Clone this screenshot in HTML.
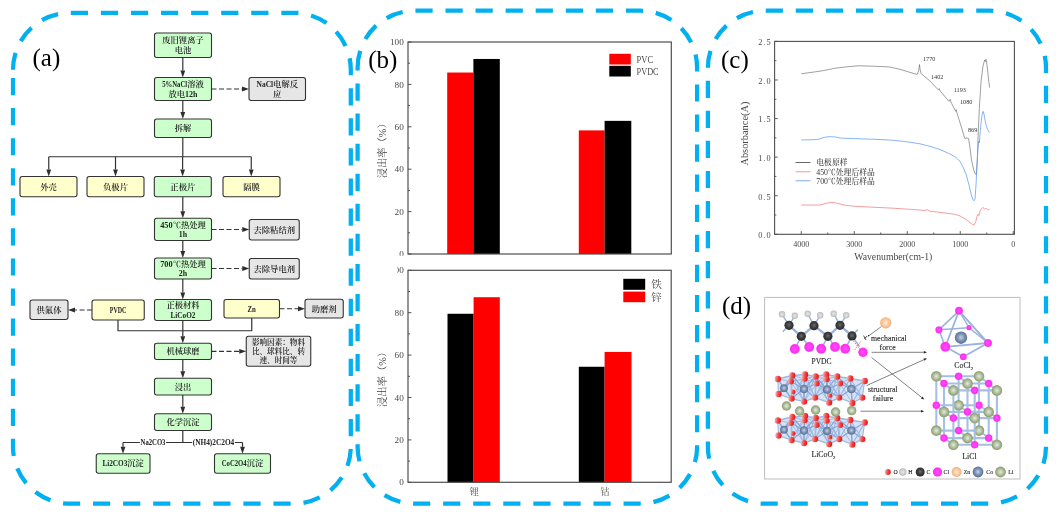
<!DOCTYPE html>
<html lang="zh"><head><meta charset="utf-8"><title>figure</title>
<style>
html,body{margin:0;padding:0;background:#fff;}
svg{display:block}
.fc{font-weight:600;fill:#222}
.cj{font-family:"Liberation Serif","Noto Serif CJK SC",serif}
.la{font-family:"Liberation Serif","Noto Serif CJK SC",serif}
.tn{font-family:"Liberation Serif","Noto Serif CJK SC",serif}
.ax{fill:#4a4a4a;font-weight:400}
</style></head><body>
<svg width="1056" height="519" viewBox="0 0 1056 519">
<defs>
<linearGradient id="gO" x1="0" y1="0.35" x2="1" y2="0.5"><stop offset="0" stop-color="#f4bcbc"/><stop offset="0.5" stop-color="#f04a4a"/><stop offset="1" stop-color="#ee0d0d"/></linearGradient>
<radialGradient id="gH" cx="0.5" cy="0.5" r="0.55"><stop offset="0" stop-color="#e9e9e9"/><stop offset="0.55" stop-color="#cfcfcf"/><stop offset="1" stop-color="#b3b3b3"/></radialGradient>
<radialGradient id="gC" cx="0.5" cy="0.45" r="0.6"><stop offset="0" stop-color="#6a6a6a"/><stop offset="0.5" stop-color="#3c3c3c"/><stop offset="1" stop-color="#242424"/></radialGradient>
<radialGradient id="gCl" cx="0.5" cy="0.5" r="0.55"><stop offset="0" stop-color="#ff52f6"/><stop offset="0.75" stop-color="#ff2df2"/><stop offset="1" stop-color="#fb66ee"/></radialGradient>
<radialGradient id="gZn" cx="0.5" cy="0.5" r="0.55"><stop offset="0" stop-color="#fdeadb"/><stop offset="0.55" stop-color="#f9c79d"/><stop offset="1" stop-color="#f3a970"/></radialGradient>
<radialGradient id="gCo" cx="0.5" cy="0.48" r="0.56"><stop offset="0" stop-color="#c3d0e3"/><stop offset="0.5" stop-color="#7e93b4"/><stop offset="1" stop-color="#4e6690"/></radialGradient>
<radialGradient id="gLi" cx="0.5" cy="0.5" r="0.55"><stop offset="0" stop-color="#e2e9ee"/><stop offset="0.4" stop-color="#bcc8ad"/><stop offset="0.8" stop-color="#93a476"/><stop offset="1" stop-color="#8a9b6d"/></radialGradient>
</defs>
<rect width="1056" height="519" fill="#fff"/>

<path d="M13.00,69.80 A57,57 0 0 1 70.00,12.80 L293.80,12.80 A57,57 0 0 1 350.80,69.80 L350.80,446.70 A57,57 0 0 1 293.80,503.70 L70.00,503.70 A57,57 0 0 1 13.00,446.70 Z" fill="none" stroke="#00b0f0" stroke-width="4.25" stroke-dasharray="17.2 12.87"/>
<path d="M357.60,67.70 A57,57 0 0 1 414.60,10.70 L640.10,10.70 A57,57 0 0 1 697.10,67.70 L697.10,446.70 A57,57 0 0 1 640.10,503.70 L414.60,503.70 A57,57 0 0 1 357.60,446.70 Z" fill="none" stroke="#00b0f0" stroke-width="4.25" stroke-dasharray="17.2 12.87"/>
<path d="M707.90,67.70 A57,57 0 0 1 764.90,10.70 L989.00,10.70 A57,57 0 0 1 1046.00,67.70 L1046.00,446.70 A57,57 0 0 1 989.00,503.70 L764.90,503.70 A57,57 0 0 1 707.90,446.70 Z" fill="none" stroke="#00b0f0" stroke-width="4.25" stroke-dasharray="17.2 12.87"/>
<text x="32.50" y="66.30" font-size="25" class="tn" fill="#000">(a)</text>
<text x="368.30" y="68.30" font-size="25" class="tn" fill="#000">(b)</text>
<text x="721.00" y="68.30" font-size="25" class="tn" fill="#000">(c)</text>
<text x="722.00" y="313.60" font-size="25" class="tn" fill="#000">(d)</text>
<line x1="182.80" y1="57.50" x2="182.80" y2="70.50" stroke="#333333" stroke-width="1.2"/>
<polygon points="182.80,77.50 180.40,70.50 185.20,70.50" fill="#2e2e2e"/>
<line x1="182.80" y1="100.50" x2="182.80" y2="112.00" stroke="#333333" stroke-width="1.2"/>
<polygon points="182.80,119.00 180.40,112.00 185.20,112.00" fill="#2e2e2e"/>
<polyline points="182.80,137.50 182.80,156.75" fill="none" stroke="#333333" stroke-width="1.2" />
<polyline points="48.75,156.75 251.25,156.75" fill="none" stroke="#333333" stroke-width="1.2" />
<line x1="48.75" y1="156.75" x2="48.75" y2="169.50" stroke="#333333" stroke-width="1.2"/>
<polygon points="48.75,176.50 46.35,169.50 51.15,169.50" fill="#2e2e2e"/>
<line x1="115.50" y1="156.75" x2="115.50" y2="169.50" stroke="#333333" stroke-width="1.2"/>
<polygon points="115.50,176.50 113.10,169.50 117.90,169.50" fill="#2e2e2e"/>
<line x1="182.60" y1="156.75" x2="182.60" y2="169.50" stroke="#333333" stroke-width="1.2"/>
<polygon points="182.60,176.50 180.20,169.50 185.00,169.50" fill="#2e2e2e"/>
<line x1="251.25" y1="156.75" x2="251.25" y2="169.50" stroke="#333333" stroke-width="1.2"/>
<polygon points="251.25,176.50 248.85,169.50 253.65,169.50" fill="#2e2e2e"/>
<line x1="182.80" y1="196.75" x2="182.80" y2="211.25" stroke="#333333" stroke-width="1.2"/>
<polygon points="182.80,218.25 180.40,211.25 185.20,211.25" fill="#2e2e2e"/>
<line x1="182.80" y1="240.50" x2="182.80" y2="251.00" stroke="#333333" stroke-width="1.2"/>
<polygon points="182.80,258.00 180.40,251.00 185.20,251.00" fill="#2e2e2e"/>
<line x1="182.80" y1="279.00" x2="182.80" y2="292.50" stroke="#333333" stroke-width="1.2"/>
<polygon points="182.80,299.50 180.40,292.50 185.20,292.50" fill="#2e2e2e"/>
<line x1="182.80" y1="320.50" x2="182.80" y2="336.25" stroke="#333333" stroke-width="1.2"/>
<polygon points="182.80,343.25 180.40,336.25 185.20,336.25" fill="#2e2e2e"/>
<polyline points="118.00,320.00 118.00,330.75 251.75,330.75 251.75,318.00" fill="none" stroke="#333333" stroke-width="1.2" />
<line x1="182.80" y1="359.50" x2="182.80" y2="371.25" stroke="#333333" stroke-width="1.2"/>
<polygon points="182.80,378.25 180.40,371.25 185.20,371.25" fill="#2e2e2e"/>
<line x1="182.80" y1="395.00" x2="182.80" y2="406.75" stroke="#333333" stroke-width="1.2"/>
<polygon points="182.80,413.75 180.40,406.75 185.20,406.75" fill="#2e2e2e"/>
<polyline points="182.80,430.50 182.80,442.50" fill="none" stroke="#333333" stroke-width="1.2" />
<polyline points="123.00,442.50 242.50,442.50" fill="none" stroke="#333333" stroke-width="1.2" />
<line x1="123.00" y1="442.50" x2="123.00" y2="446.75" stroke="#333333" stroke-width="1.2"/>
<polygon points="123.00,453.75 120.60,446.75 125.40,446.75" fill="#2e2e2e"/>
<line x1="242.50" y1="442.50" x2="242.50" y2="446.75" stroke="#333333" stroke-width="1.2"/>
<polygon points="242.50,453.75 240.10,446.75 244.90,446.75" fill="#2e2e2e"/>
<line x1="211.50" y1="89.00" x2="242.00" y2="89.00" stroke="#333333" stroke-width="1.2" stroke-dasharray="5 2.5"/>
<polygon points="249.00,89.00 242.00,91.40 242.00,86.60" fill="#2e2e2e"/>
<line x1="211.50" y1="229.50" x2="242.25" y2="229.50" stroke="#333333" stroke-width="1.2" stroke-dasharray="5 2.5"/>
<polygon points="249.25,229.50 242.25,231.90 242.25,227.10" fill="#2e2e2e"/>
<line x1="211.50" y1="268.50" x2="242.25" y2="268.50" stroke="#333333" stroke-width="1.2" stroke-dasharray="5 2.5"/>
<polygon points="249.25,268.50 242.25,270.90 242.25,266.10" fill="#2e2e2e"/>
<line x1="279.50" y1="308.75" x2="298.00" y2="308.75" stroke="#333333" stroke-width="1.2" stroke-dasharray="5 2.5"/>
<polygon points="305.00,308.75 298.00,311.15 298.00,306.35" fill="#2e2e2e"/>
<line x1="92.00" y1="310.00" x2="75.00" y2="310.00" stroke="#333333" stroke-width="1.2" stroke-dasharray="5 2.5"/>
<polygon points="68.00,310.00 75.00,307.60 75.00,312.40" fill="#2e2e2e"/>
<line x1="211.50" y1="351.30" x2="239.25" y2="351.30" stroke="#333333" stroke-width="1.2" stroke-dasharray="5 2.5"/>
<polygon points="246.25,351.30 239.25,353.70 239.25,348.90" fill="#2e2e2e"/>
<rect x="154.50" y="33.00" width="57.00" height="24.50" rx="2.2" fill="#ccffcc" stroke="#333333" stroke-width="1.1"/>
<text x="162.25" y="43.39" font-size="8.30" class="fc"><tspan class="cj">废旧锂离子</tspan></text>
<text x="174.70" y="53.09" font-size="8.30" class="fc"><tspan class="cj">电池</tspan></text>
<rect x="154.50" y="77.50" width="57.00" height="23.00" rx="2.2" fill="#ccffcc" stroke="#333333" stroke-width="1.1"/>
<text x="162.25" y="87.14" font-size="8.30" class="fc"><tspan class="la" textLength="24.90" lengthAdjust="spacingAndGlyphs">5%NaCl</tspan><tspan class="cj">溶液</tspan></text>
<text x="168.47" y="96.84" font-size="8.30" class="fc"><tspan class="cj">放电</tspan><tspan class="la" textLength="12.45" lengthAdjust="spacingAndGlyphs">12h</tspan></text>
<rect x="154.50" y="119.00" width="57.00" height="18.50" rx="2.2" fill="#ccffcc" stroke="#333333" stroke-width="1.1"/>
<text x="174.70" y="131.24" font-size="8.30" class="fc"><tspan class="cj">拆解</tspan></text>
<rect x="20.00" y="176.50" width="57.00" height="20.25" rx="2.2" fill="#ffffcc" stroke="#333333" stroke-width="1.1"/>
<text x="40.20" y="189.61" font-size="8.30" class="fc"><tspan class="cj">外壳</tspan></text>
<rect x="87.00" y="176.50" width="57.00" height="20.25" rx="2.2" fill="#ffffcc" stroke="#333333" stroke-width="1.1"/>
<text x="103.05" y="189.61" font-size="8.30" class="fc"><tspan class="cj">负极片</tspan></text>
<rect x="154.30" y="176.50" width="57.00" height="20.25" rx="2.2" fill="#ccffcc" stroke="#333333" stroke-width="1.1"/>
<text x="170.35" y="189.61" font-size="8.30" class="fc"><tspan class="cj">正极片</tspan></text>
<rect x="223.00" y="176.50" width="57.00" height="20.25" rx="2.2" fill="#ffffcc" stroke="#333333" stroke-width="1.1"/>
<text x="243.20" y="189.61" font-size="8.30" class="fc"><tspan class="cj">隔膜</tspan></text>
<rect x="154.50" y="218.25" width="57.00" height="22.25" rx="2.2" fill="#ccffcc" stroke="#333333" stroke-width="1.1"/>
<text x="160.18" y="227.51" font-size="8.30" class="fc"><tspan class="la" textLength="12.45" lengthAdjust="spacingAndGlyphs">450</tspan><tspan class="cj">℃热处理</tspan></text>
<text x="178.85" y="237.21" font-size="8.30" class="fc"><tspan class="la" textLength="8.30" lengthAdjust="spacingAndGlyphs">1h</tspan></text>
<rect x="154.50" y="258.00" width="57.00" height="21.00" rx="2.2" fill="#ccffcc" stroke="#333333" stroke-width="1.1"/>
<text x="160.18" y="266.64" font-size="8.30" class="fc"><tspan class="la" textLength="12.45" lengthAdjust="spacingAndGlyphs">700</tspan><tspan class="cj">℃热处理</tspan></text>
<text x="178.85" y="276.34" font-size="8.30" class="fc"><tspan class="la" textLength="8.30" lengthAdjust="spacingAndGlyphs">2h</tspan></text>
<rect x="154.50" y="299.50" width="57.00" height="21.00" rx="2.2" fill="#ccffcc" stroke="#333333" stroke-width="1.1"/>
<text x="166.40" y="308.14" font-size="8.30" class="fc"><tspan class="cj">正极材料</tspan></text>
<text x="170.55" y="317.84" font-size="8.30" class="fc"><tspan class="la" textLength="24.90" lengthAdjust="spacingAndGlyphs">LiCoO2</tspan></text>
<rect x="154.50" y="343.25" width="57.00" height="16.25" rx="2.2" fill="#ccffcc" stroke="#333333" stroke-width="1.1"/>
<text x="166.40" y="354.36" font-size="8.30" class="fc"><tspan class="cj">机械球磨</tspan></text>
<rect x="154.50" y="378.25" width="57.00" height="16.75" rx="2.2" fill="#ccffcc" stroke="#333333" stroke-width="1.1"/>
<text x="174.70" y="389.61" font-size="8.30" class="fc"><tspan class="cj">浸出</tspan></text>
<rect x="154.50" y="413.75" width="57.00" height="16.75" rx="2.2" fill="#ccffcc" stroke="#333333" stroke-width="1.1"/>
<text x="166.40" y="425.11" font-size="8.30" class="fc"><tspan class="cj">化学沉淀</tspan></text>
<rect x="96.25" y="453.75" width="53.75" height="19.50" rx="2.2" fill="#ccffcc" stroke="#333333" stroke-width="1.1"/>
<text x="102.38" y="466.49" font-size="8.30" class="fc"><tspan class="la" textLength="24.90" lengthAdjust="spacingAndGlyphs">Li2CO3</tspan><tspan class="cj">沉淀</tspan></text>
<rect x="214.50" y="453.75" width="56.00" height="19.50" rx="2.2" fill="#ccffcc" stroke="#333333" stroke-width="1.1"/>
<text x="221.75" y="466.49" font-size="8.30" class="fc"><tspan class="la" textLength="24.90" lengthAdjust="spacingAndGlyphs">CoC2O4</tspan><tspan class="cj">沉淀</tspan></text>
<rect x="92.00" y="300.00" width="52.25" height="20.00" rx="2.2" fill="#ffffcc" stroke="#333333" stroke-width="1.1"/>
<text x="109.83" y="312.99" font-size="8.30" class="fc"><tspan class="la" textLength="16.60" lengthAdjust="spacingAndGlyphs">PVDC</tspan></text>
<rect x="224.00" y="299.50" width="55.50" height="18.50" rx="2.2" fill="#ffffcc" stroke="#333333" stroke-width="1.1"/>
<text x="247.60" y="311.74" font-size="8.30" class="fc"><tspan class="la" textLength="8.30" lengthAdjust="spacingAndGlyphs">Zn</tspan></text>
<rect x="249.00" y="77.50" width="56.50" height="23.00" rx="2.2" fill="#e6e6e6" stroke="#333333" stroke-width="1.1"/>
<text x="256.50" y="87.14" font-size="8.30" class="fc"><tspan class="la" textLength="16.60" lengthAdjust="spacingAndGlyphs">NaCl</tspan><tspan class="cj">电解反</tspan></text>
<text x="273.10" y="96.84" font-size="8.30" class="fc"><tspan class="cj">应</tspan></text>
<rect x="249.25" y="219.50" width="50.00" height="20.50" rx="2.2" fill="#e6e6e6" stroke="#333333" stroke-width="1.1"/>
<text x="253.50" y="232.74" font-size="8.30" class="fc"><tspan class="cj">去除粘结剂</tspan></text>
<rect x="249.25" y="258.50" width="50.00" height="20.50" rx="2.2" fill="#e6e6e6" stroke="#333333" stroke-width="1.1"/>
<text x="253.50" y="271.74" font-size="8.30" class="fc"><tspan class="cj">去除导电剂</tspan></text>
<rect x="305.00" y="299.25" width="38.25" height="18.75" rx="2.2" fill="#e6e6e6" stroke="#333333" stroke-width="1.1"/>
<text x="311.68" y="311.61" font-size="8.30" class="fc"><tspan class="cj">助磨剂</tspan></text>
<rect x="30.00" y="300.00" width="38.00" height="19.50" rx="2.2" fill="#e6e6e6" stroke="#333333" stroke-width="1.1"/>
<text x="36.55" y="312.74" font-size="8.30" class="fc"><tspan class="cj">供氟体</tspan></text>
<rect x="246.25" y="336.25" width="64.50" height="30.00" rx="2.2" fill="#e6e6e6" stroke="#333333" stroke-width="1.1"/>
<text x="251.90" y="345.09" font-size="7.60" class="fc"><tspan class="cj">影响因素：物料</tspan></text>
<text x="251.90" y="353.99" font-size="7.60" class="fc"><tspan class="cj">比、球料比、转</tspan></text>
<text x="259.50" y="362.89" font-size="7.60" class="fc"><tspan class="cj">速、时间等</tspan></text>
<rect x="139.95" y="438.50" width="26.10" height="8" fill="#fff"/>
<text x="140.55" y="445.49" font-size="8.3" class="fc"><tspan class="la" textLength="24.90" lengthAdjust="spacingAndGlyphs">Na2CO3</tspan></text>
<rect x="192.15" y="438.50" width="42.70" height="8" fill="#fff"/>
<text x="192.75" y="445.49" font-size="8.3" class="fc"><tspan class="la" textLength="41.50" lengthAdjust="spacingAndGlyphs">(NH4)2C2O4</tspan></text>
<clipPath id="cb1"><rect x="360" y="30" width="340" height="225.8"/></clipPath>
<g clip-path="url(#cb1)">
<rect x="447.20" y="72.53" width="26.20" height="181.47" fill="#ff0000"/>
<rect x="473.40" y="58.96" width="26.40" height="195.04" fill="#000000"/>
<rect x="578.80" y="130.40" width="25.80" height="123.60" fill="#ff0000"/>
<rect x="604.60" y="120.86" width="26.70" height="133.14" fill="#000000"/>
<rect x="408.00" y="42.00" width="263.30" height="212.00" fill="none" stroke="#4f4f4f" stroke-width="1.2"/>
<line x1="408.00" y1="254.00" x2="411.40" y2="254.00" stroke="#4f4f4f" stroke-width="1"/>
<text x="403.80" y="257.10" font-size="9.2" text-anchor="end" class="tn ax" >0</text>
<line x1="408.00" y1="232.80" x2="410.00" y2="232.80" stroke="#4f4f4f" stroke-width="1"/>
<line x1="408.00" y1="211.60" x2="411.40" y2="211.60" stroke="#4f4f4f" stroke-width="1"/>
<text x="403.80" y="214.70" font-size="9.2" text-anchor="end" class="tn ax" >20</text>
<line x1="408.00" y1="190.40" x2="410.00" y2="190.40" stroke="#4f4f4f" stroke-width="1"/>
<line x1="408.00" y1="169.20" x2="411.40" y2="169.20" stroke="#4f4f4f" stroke-width="1"/>
<text x="403.80" y="172.30" font-size="9.2" text-anchor="end" class="tn ax" >40</text>
<line x1="408.00" y1="148.00" x2="410.00" y2="148.00" stroke="#4f4f4f" stroke-width="1"/>
<line x1="408.00" y1="126.80" x2="411.40" y2="126.80" stroke="#4f4f4f" stroke-width="1"/>
<text x="403.80" y="129.90" font-size="9.2" text-anchor="end" class="tn ax" >60</text>
<line x1="408.00" y1="105.60" x2="410.00" y2="105.60" stroke="#4f4f4f" stroke-width="1"/>
<line x1="408.00" y1="84.40" x2="411.40" y2="84.40" stroke="#4f4f4f" stroke-width="1"/>
<text x="403.80" y="87.50" font-size="9.2" text-anchor="end" class="tn ax" >80</text>
<line x1="408.00" y1="63.20" x2="410.00" y2="63.20" stroke="#4f4f4f" stroke-width="1"/>
<line x1="408.00" y1="42.00" x2="411.40" y2="42.00" stroke="#4f4f4f" stroke-width="1"/>
<text x="403.80" y="45.10" font-size="9.2" text-anchor="end" class="tn ax" >100</text>
</g>
<clipPath id="cb2"><rect x="360" y="262" width="340" height="238"/></clipPath>
<g clip-path="url(#cb2)">
<rect x="447.50" y="313.76" width="26.10" height="168.54" fill="#000000"/>
<rect x="473.60" y="297.22" width="26.20" height="185.08" fill="#ff0000"/>
<rect x="578.80" y="366.76" width="25.80" height="115.54" fill="#000000"/>
<rect x="604.60" y="351.92" width="26.90" height="130.38" fill="#ff0000"/>
<rect x="408.00" y="270.30" width="263.20" height="212.00" fill="none" stroke="#4f4f4f" stroke-width="1.2"/>
<line x1="408.00" y1="482.30" x2="411.40" y2="482.30" stroke="#4f4f4f" stroke-width="1"/>
<text x="403.80" y="485.40" font-size="9.2" text-anchor="end" class="tn ax" >0</text>
<line x1="408.00" y1="461.10" x2="410.00" y2="461.10" stroke="#4f4f4f" stroke-width="1"/>
<line x1="408.00" y1="439.90" x2="411.40" y2="439.90" stroke="#4f4f4f" stroke-width="1"/>
<text x="403.80" y="443.00" font-size="9.2" text-anchor="end" class="tn ax" >20</text>
<line x1="408.00" y1="418.70" x2="410.00" y2="418.70" stroke="#4f4f4f" stroke-width="1"/>
<line x1="408.00" y1="397.50" x2="411.40" y2="397.50" stroke="#4f4f4f" stroke-width="1"/>
<text x="403.80" y="400.60" font-size="9.2" text-anchor="end" class="tn ax" >40</text>
<line x1="408.00" y1="376.30" x2="410.00" y2="376.30" stroke="#4f4f4f" stroke-width="1"/>
<line x1="408.00" y1="355.10" x2="411.40" y2="355.10" stroke="#4f4f4f" stroke-width="1"/>
<text x="403.80" y="358.20" font-size="9.2" text-anchor="end" class="tn ax" >60</text>
<line x1="408.00" y1="333.90" x2="410.00" y2="333.90" stroke="#4f4f4f" stroke-width="1"/>
<line x1="408.00" y1="312.70" x2="411.40" y2="312.70" stroke="#4f4f4f" stroke-width="1"/>
<text x="403.80" y="315.80" font-size="9.2" text-anchor="end" class="tn ax" >80</text>
<line x1="408.00" y1="291.50" x2="410.00" y2="291.50" stroke="#4f4f4f" stroke-width="1"/>
<line x1="408.00" y1="270.30" x2="411.40" y2="270.30" stroke="#4f4f4f" stroke-width="1"/>
<text x="403.80" y="273.40" font-size="9.2" text-anchor="end" class="tn ax" >100</text>
</g>
<rect x="384" y="262" width="13.2" height="14" fill="#fff"/>
<rect x="609.3" y="53.8" width="21.5" height="10.7" fill="#f00"/><rect x="609.3" y="65.8" width="21.5" height="10.7" fill="#000"/>
<text x="636.6" y="63.2" font-size="11" class="tn ax" textLength="16.5" lengthAdjust="spacingAndGlyphs">PVC</text>
<text x="636.6" y="75.2" font-size="11" class="tn ax" textLength="22" lengthAdjust="spacingAndGlyphs">PVDC</text>
<rect x="623.3" y="278.8" width="21.9" height="11" fill="#000"/><rect x="623.3" y="291.6" width="21.9" height="10.6" fill="#f00"/>
<text x="651.20" y="288.20" font-size="10.5" text-anchor="start" class="tn ax" >铁</text>
<text x="651.20" y="300.60" font-size="10.5" text-anchor="start" class="tn ax" >锌</text>
<text x="474.20" y="495.40" font-size="9" text-anchor="middle" class="tn ax" >锂</text>
<text x="604.90" y="495.40" font-size="9" text-anchor="middle" class="tn ax" >钴</text>
<text transform="translate(386.00,148.30) rotate(-90)" font-size="10.3" text-anchor="middle" class="tn" fill="#3c3c3c" >浸出率（%）</text>
<text transform="translate(386.00,376.90) rotate(-90)" font-size="10.3" text-anchor="middle" class="tn" fill="#3c3c3c" >浸出率（%）</text>
<rect x="774.60" y="41.40" width="239.80" height="192.90" fill="none" stroke="#4f4f4f" stroke-width="1.1"/>
<line x1="774.60" y1="234.30" x2="777.80" y2="234.30" stroke="#4f4f4f" stroke-width="0.9"/>
<text x="758.2" y="238.10" font-size="8.3" class="tn ax" textLength="12.4" lengthAdjust="spacing">0.0</text>
<line x1="774.60" y1="215.01" x2="776.40" y2="215.01" stroke="#4f4f4f" stroke-width="0.9"/>
<line x1="774.60" y1="195.72" x2="777.80" y2="195.72" stroke="#4f4f4f" stroke-width="0.9"/>
<text x="758.2" y="199.52" font-size="8.3" class="tn ax" textLength="12.4" lengthAdjust="spacing">0.5</text>
<line x1="774.60" y1="176.43" x2="776.40" y2="176.43" stroke="#4f4f4f" stroke-width="0.9"/>
<line x1="774.60" y1="157.14" x2="777.80" y2="157.14" stroke="#4f4f4f" stroke-width="0.9"/>
<text x="758.2" y="160.94" font-size="8.3" class="tn ax" textLength="12.4" lengthAdjust="spacing">1.0</text>
<line x1="774.60" y1="137.85" x2="776.40" y2="137.85" stroke="#4f4f4f" stroke-width="0.9"/>
<line x1="774.60" y1="118.56" x2="777.80" y2="118.56" stroke="#4f4f4f" stroke-width="0.9"/>
<text x="758.2" y="122.36" font-size="8.3" class="tn ax" textLength="12.4" lengthAdjust="spacing">1.5</text>
<line x1="774.60" y1="99.27" x2="776.40" y2="99.27" stroke="#4f4f4f" stroke-width="0.9"/>
<line x1="774.60" y1="79.98" x2="777.80" y2="79.98" stroke="#4f4f4f" stroke-width="0.9"/>
<text x="758.2" y="83.78" font-size="8.3" class="tn ax" textLength="12.4" lengthAdjust="spacing">2.0</text>
<line x1="774.60" y1="60.69" x2="776.40" y2="60.69" stroke="#4f4f4f" stroke-width="0.9"/>
<line x1="774.60" y1="41.40" x2="777.80" y2="41.40" stroke="#4f4f4f" stroke-width="0.9"/>
<text x="758.2" y="45.20" font-size="8.3" class="tn ax" textLength="12.4" lengthAdjust="spacing">2.5</text>
<line x1="1013.25" y1="234.30" x2="1013.25" y2="231.10" stroke="#4f4f4f" stroke-width="0.9"/>
<text x="1013.25" y="246.80" font-size="8" text-anchor="middle" class="tn ax" >0</text>
<line x1="986.75" y1="234.30" x2="986.75" y2="232.50" stroke="#4f4f4f" stroke-width="0.9"/>
<line x1="960.25" y1="234.30" x2="960.25" y2="231.10" stroke="#4f4f4f" stroke-width="0.9"/>
<text x="960.25" y="246.80" font-size="8" text-anchor="middle" class="tn ax" >1000</text>
<line x1="933.75" y1="234.30" x2="933.75" y2="232.50" stroke="#4f4f4f" stroke-width="0.9"/>
<line x1="907.25" y1="234.30" x2="907.25" y2="231.10" stroke="#4f4f4f" stroke-width="0.9"/>
<text x="907.25" y="246.80" font-size="8" text-anchor="middle" class="tn ax" >2000</text>
<line x1="880.75" y1="234.30" x2="880.75" y2="232.50" stroke="#4f4f4f" stroke-width="0.9"/>
<line x1="854.25" y1="234.30" x2="854.25" y2="231.10" stroke="#4f4f4f" stroke-width="0.9"/>
<text x="854.25" y="246.80" font-size="8" text-anchor="middle" class="tn ax" >3000</text>
<line x1="827.75" y1="234.30" x2="827.75" y2="232.50" stroke="#4f4f4f" stroke-width="0.9"/>
<line x1="801.25" y1="234.30" x2="801.25" y2="231.10" stroke="#4f4f4f" stroke-width="0.9"/>
<text x="801.25" y="246.80" font-size="8" text-anchor="middle" class="tn ax" >4000</text>
<text x="854.3" y="260.1" font-size="10" class="tn ax" textLength="78" lengthAdjust="spacingAndGlyphs">Wavenumber(cm-1)</text>
<text transform="translate(748.4,165.6) rotate(-90)" font-size="10" class="tn ax" textLength="64" lengthAdjust="spacingAndGlyphs">Absorbance(A)</text>
<polyline points="801.25,73.75 812.00,72.30 822.50,70.75 835.00,68.25 847.00,66.80 858.75,65.75 875.00,66.25 890.00,67.00 902.50,70.00 910.00,72.40 917.20,74.40 918.60,71.00 919.50,64.60 920.20,70.00 921.00,73.50 930.00,81.00 938.20,89.80 939.20,88.60 940.20,91.00 948.90,101.30 950.20,99.30 951.20,102.50 955.60,111.30 956.20,109.60 957.00,113.00 961.00,126.00 964.80,138.60 967.00,137.80 968.60,138.60 970.00,148.00 971.50,160.00 973.50,169.00 975.20,174.00 976.40,174.50 977.30,160.00 978.30,130.00 979.50,105.00 981.20,80.00 983.00,66.00 984.60,60.00 985.30,61.50 985.90,59.30 986.60,62.00 987.60,70.00 988.60,80.00 989.60,87.60" fill="none" stroke="#505050" stroke-width="0.55" stroke-linejoin="round"/>
<polyline points="801.25,140.00 810.00,139.80 817.50,139.50 822.00,138.00 826.00,137.00 830.00,136.70 835.00,136.90 840.00,138.00 850.00,138.50 860.00,138.80 875.00,139.30 890.00,140.00 905.00,141.50 920.00,143.80 930.00,146.30 940.00,149.50 950.00,154.00 956.00,157.50 960.00,161.30 963.50,168.00 966.30,175.00 969.00,185.00 971.30,195.00 973.00,199.80 974.00,200.80 975.00,199.00 976.00,185.00 977.00,165.00 978.00,148.00 978.80,141.00 979.30,143.00 980.00,134.00 981.00,123.00 982.00,115.00 983.00,111.30 984.00,114.00 985.00,120.00 986.20,125.50 987.60,129.50 989.40,132.50" fill="none" stroke="#5f9cf0" stroke-width="0.75" stroke-linejoin="round"/>
<polyline points="801.25,205.00 812.00,205.10 820.00,205.00 825.00,203.60 830.00,202.50 835.00,202.70 840.00,204.00 845.00,205.20 855.00,206.30 875.00,207.30 890.00,208.00 905.00,209.00 920.00,210.00 925.00,210.60 927.30,209.60 929.50,211.20 945.00,213.00 955.00,214.30 960.00,216.00 965.00,218.80 970.00,222.50 972.50,224.60 974.00,225.00 975.50,222.50 977.00,216.50 978.00,214.30 978.80,215.60 980.00,211.30 981.50,208.60 983.00,207.50 984.60,209.00 986.00,208.40 987.60,209.80 989.40,209.50" fill="none" stroke="#f07f7f" stroke-width="0.75" stroke-linejoin="round"/>
<text x="923.00" y="60.80" font-size="6.2" text-anchor="start" class="tn" fill="#333">1770</text>
<text x="931.00" y="79.00" font-size="6.2" text-anchor="start" class="tn" fill="#333">1402</text>
<text x="953.70" y="92.00" font-size="6.2" text-anchor="start" class="tn" fill="#333">1193</text>
<text x="960.00" y="103.80" font-size="6.2" text-anchor="start" class="tn" fill="#333">1080</text>
<text x="968.00" y="131.50" font-size="6.2" text-anchor="start" class="tn" fill="#333">869</text>
<line x1="795.5" y1="162.5" x2="810.5" y2="162.5" stroke="#555" stroke-width="0.9"/>
<line x1="795.5" y1="171.75" x2="810.5" y2="171.75" stroke="#f28c8c" stroke-width="0.9"/>
<line x1="795.5" y1="180.75" x2="810.5" y2="180.75" stroke="#6ea4f2" stroke-width="0.9"/>
<text x="816.30" y="165.40" font-size="7.8" fill="#383838" font-weight="500"><tspan class="cj">电极原样</tspan></text>
<text x="816.30" y="174.60" font-size="7.8" fill="#383838" font-weight="500"><tspan class="la" textLength="11.70" lengthAdjust="spacingAndGlyphs">450</tspan><tspan class="cj">℃处理后样品</tspan></text>
<text x="816.30" y="183.70" font-size="7.8" fill="#383838" font-weight="500"><tspan class="la" textLength="11.70" lengthAdjust="spacingAndGlyphs">700</tspan><tspan class="cj">℃处理后样品</tspan></text>
<rect x="764.6" y="297.4" width="255.4" height="181.6" fill="#fff" stroke="#bdbdbd" stroke-width="1"/>
<line x1="789.00" y1="325.30" x2="783.20" y2="331.20" stroke="#98b3dd" stroke-width="1.6" stroke-linecap="round"/>
<line x1="852.00" y1="335.90" x2="857.50" y2="330.00" stroke="#98b3dd" stroke-width="1.6" stroke-linecap="round"/>
<line x1="789.00" y1="325.30" x2="801.30" y2="336.30" stroke="#98b3dd" stroke-width="2.3" stroke-linecap="round"/>
<line x1="801.30" y1="336.30" x2="814.00" y2="325.70" stroke="#98b3dd" stroke-width="2.3" stroke-linecap="round"/>
<line x1="814.00" y1="325.70" x2="827.90" y2="336.30" stroke="#98b3dd" stroke-width="2.3" stroke-linecap="round"/>
<line x1="827.90" y1="336.30" x2="840.00" y2="325.30" stroke="#98b3dd" stroke-width="2.3" stroke-linecap="round"/>
<line x1="840.00" y1="325.30" x2="852.00" y2="335.90" stroke="#98b3dd" stroke-width="2.3" stroke-linecap="round"/>
<line x1="789.00" y1="325.30" x2="782.00" y2="314.30" stroke="#98b3dd" stroke-width="1.4" stroke-linecap="round"/>
<line x1="789.00" y1="325.30" x2="794.80" y2="315.80" stroke="#98b3dd" stroke-width="1.4" stroke-linecap="round"/>
<line x1="814.00" y1="325.70" x2="807.70" y2="313.70" stroke="#98b3dd" stroke-width="1.4" stroke-linecap="round"/>
<line x1="814.00" y1="325.70" x2="820.20" y2="315.30" stroke="#98b3dd" stroke-width="1.4" stroke-linecap="round"/>
<line x1="840.00" y1="325.30" x2="833.70" y2="313.70" stroke="#98b3dd" stroke-width="1.4" stroke-linecap="round"/>
<line x1="840.00" y1="325.30" x2="846.20" y2="315.30" stroke="#98b3dd" stroke-width="1.4" stroke-linecap="round"/>
<line x1="801.30" y1="336.30" x2="794.80" y2="349.00" stroke="#98b3dd" stroke-width="1.5" stroke-linecap="round"/>
<line x1="801.30" y1="336.30" x2="809.20" y2="347.00" stroke="#98b3dd" stroke-width="1.5" stroke-linecap="round"/>
<line x1="827.90" y1="336.30" x2="821.20" y2="348.80" stroke="#98b3dd" stroke-width="1.5" stroke-linecap="round"/>
<line x1="827.90" y1="336.30" x2="835.00" y2="346.90" stroke="#98b3dd" stroke-width="1.5" stroke-linecap="round"/>
<line x1="852.00" y1="335.90" x2="845.20" y2="348.80" stroke="#98b3dd" stroke-width="1.5" stroke-linecap="round"/>
<line x1="852.00" y1="335.90" x2="859.00" y2="346.00" stroke="#98b3dd" stroke-width="1.4" stroke-linecap="round"/>
<circle cx="782.00" cy="314.30" r="3.20" fill="url(#gH)"/>
<circle cx="794.80" cy="315.80" r="3.20" fill="url(#gH)"/>
<circle cx="807.70" cy="313.70" r="3.20" fill="url(#gH)"/>
<circle cx="820.20" cy="315.30" r="3.20" fill="url(#gH)"/>
<circle cx="833.70" cy="313.70" r="3.20" fill="url(#gH)"/>
<circle cx="846.20" cy="315.30" r="3.20" fill="url(#gH)"/>
<circle cx="789.00" cy="325.30" r="4.60" fill="url(#gC)"/>
<circle cx="801.30" cy="336.30" r="4.60" fill="url(#gC)"/>
<circle cx="814.00" cy="325.70" r="4.60" fill="url(#gC)"/>
<circle cx="827.90" cy="336.30" r="4.60" fill="url(#gC)"/>
<circle cx="840.00" cy="325.30" r="4.60" fill="url(#gC)"/>
<circle cx="852.00" cy="335.90" r="4.60" fill="url(#gC)"/>
<circle cx="794.80" cy="349.00" r="5.00" fill="url(#gCl)"/>
<circle cx="809.20" cy="347.00" r="5.00" fill="url(#gCl)"/>
<circle cx="821.20" cy="348.80" r="5.00" fill="url(#gCl)"/>
<circle cx="835.00" cy="346.90" r="5.00" fill="url(#gCl)"/>
<circle cx="845.20" cy="348.80" r="5.00" fill="url(#gCl)"/>
<circle cx="863.00" cy="352.30" r="4.80" fill="url(#gCl)"/>
<path d="M853.6,341.2 L860.2,349.6 M860.6,341.6 L854.4,350.4" stroke="#f33" stroke-width="0.8" stroke-dasharray="1.2 1.1" fill="none"/>
<line x1="881.5" y1="326.5" x2="867.6" y2="336.6" stroke="#555" stroke-width="0.7"/>
<path d="M864.4,338.6 l2.6,-2.4 M863.6,335.6 l2.4,4.4" stroke="#222" stroke-width="0.8" fill="none"/><circle cx="868.6" cy="335.6" r="0.7" fill="#222"/>
<circle cx="885.70" cy="322.80" r="5.60" fill="url(#gZn)"/>
<text x="888.80" y="341.30" font-size="7.8" text-anchor="middle" class="tn" fill="#262626" stroke="#262626" stroke-width="0.12">mechanical</text>
<text x="887.60" y="350.00" font-size="7.8" text-anchor="middle" class="tn" fill="#262626" stroke="#262626" stroke-width="0.12">force</text>
<text x="821.50" y="363.60" font-size="7.5" text-anchor="middle" class="tn" fill="#262626" stroke="#262626" stroke-width="0.12">PVDC</text>
<text x="882.80" y="392.20" font-size="7.8" text-anchor="middle" class="tn" fill="#262626" stroke="#262626" stroke-width="0.12">structural</text>
<text x="883.00" y="400.70" font-size="7.8" text-anchor="middle" class="tn" fill="#262626" stroke="#262626" stroke-width="0.12">failure</text>
<text x="823.50" y="457.20" font-size="7.8" text-anchor="middle" class="tn" fill="#262626" stroke="#262626" stroke-width="0.12">LiCoO<tspan font-size="5" dy="1.5">2</tspan></text>
<text x="963.80" y="368.40" font-size="7.8" text-anchor="middle" class="tn" fill="#262626" stroke="#262626" stroke-width="0.12">CoCl<tspan font-size="5" dy="1.5">2</tspan></text>
<text x="969.40" y="458.80" font-size="7.8" text-anchor="middle" class="tn" fill="#262626" stroke="#262626" stroke-width="0.12">LiCl</text>
<polygon points="777.8,379.0 792.2,375.5 805.0,374.5 815.6,376.5 826.1,374.5 837.1,376.5 850.2,378.5 864.7,381.0 862.2,397.6 852.2,403.0 839.1,397.6 829.1,402.6 815.0,397.6 804.0,401.6 791.5,398.6 778.5,394.0" fill="#c9daf0" opacity="0.75"/>
<line x1="777.80" y1="379.00" x2="792.20" y2="375.50" stroke="#9bb8e2" stroke-width="1.3" stroke-linecap="round"/>
<line x1="778.50" y1="394.00" x2="791.50" y2="398.60" stroke="#9bb8e2" stroke-width="1.3" stroke-linecap="round"/>
<line x1="792.20" y1="375.50" x2="805.00" y2="374.50" stroke="#9bb8e2" stroke-width="1.3" stroke-linecap="round"/>
<line x1="791.50" y1="398.60" x2="804.00" y2="401.60" stroke="#9bb8e2" stroke-width="1.3" stroke-linecap="round"/>
<line x1="805.00" y1="374.50" x2="815.60" y2="376.50" stroke="#9bb8e2" stroke-width="1.3" stroke-linecap="round"/>
<line x1="804.00" y1="401.60" x2="815.00" y2="397.60" stroke="#9bb8e2" stroke-width="1.3" stroke-linecap="round"/>
<line x1="815.60" y1="376.50" x2="826.10" y2="374.50" stroke="#9bb8e2" stroke-width="1.3" stroke-linecap="round"/>
<line x1="815.00" y1="397.60" x2="829.10" y2="402.60" stroke="#9bb8e2" stroke-width="1.3" stroke-linecap="round"/>
<line x1="826.10" y1="374.50" x2="837.10" y2="376.50" stroke="#9bb8e2" stroke-width="1.3" stroke-linecap="round"/>
<line x1="829.10" y1="402.60" x2="839.10" y2="397.60" stroke="#9bb8e2" stroke-width="1.3" stroke-linecap="round"/>
<line x1="837.10" y1="376.50" x2="850.20" y2="378.50" stroke="#9bb8e2" stroke-width="1.3" stroke-linecap="round"/>
<line x1="839.10" y1="397.60" x2="852.20" y2="403.00" stroke="#9bb8e2" stroke-width="1.3" stroke-linecap="round"/>
<line x1="850.20" y1="378.50" x2="864.70" y2="381.00" stroke="#9bb8e2" stroke-width="1.3" stroke-linecap="round"/>
<line x1="852.20" y1="403.00" x2="862.20" y2="397.60" stroke="#9bb8e2" stroke-width="1.3" stroke-linecap="round"/>
<line x1="777.80" y1="379.00" x2="778.50" y2="394.00" stroke="#9bb8e2" stroke-width="1.1" stroke-linecap="round"/>
<line x1="777.80" y1="379.00" x2="791.50" y2="398.60" stroke="#9bb8e2" stroke-width="1.1" stroke-linecap="round"/>
<line x1="792.20" y1="375.50" x2="778.50" y2="394.00" stroke="#9bb8e2" stroke-width="1.1" stroke-linecap="round"/>
<line x1="792.20" y1="375.50" x2="791.50" y2="398.60" stroke="#9bb8e2" stroke-width="1.1" stroke-linecap="round"/>
<line x1="792.20" y1="375.50" x2="804.00" y2="401.60" stroke="#9bb8e2" stroke-width="1.1" stroke-linecap="round"/>
<line x1="805.00" y1="374.50" x2="791.50" y2="398.60" stroke="#9bb8e2" stroke-width="1.1" stroke-linecap="round"/>
<line x1="805.00" y1="374.50" x2="804.00" y2="401.60" stroke="#9bb8e2" stroke-width="1.1" stroke-linecap="round"/>
<line x1="805.00" y1="374.50" x2="815.00" y2="397.60" stroke="#9bb8e2" stroke-width="1.1" stroke-linecap="round"/>
<line x1="815.60" y1="376.50" x2="804.00" y2="401.60" stroke="#9bb8e2" stroke-width="1.1" stroke-linecap="round"/>
<line x1="815.60" y1="376.50" x2="815.00" y2="397.60" stroke="#9bb8e2" stroke-width="1.1" stroke-linecap="round"/>
<line x1="815.60" y1="376.50" x2="829.10" y2="402.60" stroke="#9bb8e2" stroke-width="1.1" stroke-linecap="round"/>
<line x1="826.10" y1="374.50" x2="815.00" y2="397.60" stroke="#9bb8e2" stroke-width="1.1" stroke-linecap="round"/>
<line x1="826.10" y1="374.50" x2="829.10" y2="402.60" stroke="#9bb8e2" stroke-width="1.1" stroke-linecap="round"/>
<line x1="826.10" y1="374.50" x2="839.10" y2="397.60" stroke="#9bb8e2" stroke-width="1.1" stroke-linecap="round"/>
<line x1="837.10" y1="376.50" x2="829.10" y2="402.60" stroke="#9bb8e2" stroke-width="1.1" stroke-linecap="round"/>
<line x1="837.10" y1="376.50" x2="839.10" y2="397.60" stroke="#9bb8e2" stroke-width="1.1" stroke-linecap="round"/>
<line x1="850.20" y1="378.50" x2="839.10" y2="397.60" stroke="#9bb8e2" stroke-width="1.1" stroke-linecap="round"/>
<line x1="850.20" y1="378.50" x2="852.20" y2="403.00" stroke="#9bb8e2" stroke-width="1.1" stroke-linecap="round"/>
<line x1="850.20" y1="378.50" x2="862.20" y2="397.60" stroke="#9bb8e2" stroke-width="1.1" stroke-linecap="round"/>
<line x1="864.70" y1="381.00" x2="852.20" y2="403.00" stroke="#9bb8e2" stroke-width="1.1" stroke-linecap="round"/>
<line x1="864.70" y1="381.00" x2="862.20" y2="397.60" stroke="#9bb8e2" stroke-width="1.1" stroke-linecap="round"/>
<line x1="791.00" y1="381.50" x2="777.80" y2="379.00" stroke="#9bb8e2" stroke-width="0.9" stroke-linecap="round"/>
<line x1="791.00" y1="381.50" x2="792.20" y2="375.50" stroke="#9bb8e2" stroke-width="0.9" stroke-linecap="round"/>
<line x1="791.00" y1="381.50" x2="778.50" y2="394.00" stroke="#9bb8e2" stroke-width="0.9" stroke-linecap="round"/>
<line x1="791.00" y1="381.50" x2="791.50" y2="398.60" stroke="#9bb8e2" stroke-width="0.9" stroke-linecap="round"/>
<line x1="791.00" y1="381.50" x2="804.00" y2="401.60" stroke="#9bb8e2" stroke-width="0.9" stroke-linecap="round"/>
<line x1="804.60" y1="378.80" x2="792.20" y2="375.50" stroke="#9bb8e2" stroke-width="0.9" stroke-linecap="round"/>
<line x1="804.60" y1="378.80" x2="805.00" y2="374.50" stroke="#9bb8e2" stroke-width="0.9" stroke-linecap="round"/>
<line x1="804.60" y1="378.80" x2="815.60" y2="376.50" stroke="#9bb8e2" stroke-width="0.9" stroke-linecap="round"/>
<line x1="804.60" y1="378.80" x2="791.50" y2="398.60" stroke="#9bb8e2" stroke-width="0.9" stroke-linecap="round"/>
<line x1="804.60" y1="378.80" x2="804.00" y2="401.60" stroke="#9bb8e2" stroke-width="0.9" stroke-linecap="round"/>
<line x1="804.60" y1="378.80" x2="815.00" y2="397.60" stroke="#9bb8e2" stroke-width="0.9" stroke-linecap="round"/>
<line x1="816.60" y1="383.50" x2="805.00" y2="374.50" stroke="#9bb8e2" stroke-width="0.9" stroke-linecap="round"/>
<line x1="816.60" y1="383.50" x2="815.60" y2="376.50" stroke="#9bb8e2" stroke-width="0.9" stroke-linecap="round"/>
<line x1="816.60" y1="383.50" x2="826.10" y2="374.50" stroke="#9bb8e2" stroke-width="0.9" stroke-linecap="round"/>
<line x1="816.60" y1="383.50" x2="804.00" y2="401.60" stroke="#9bb8e2" stroke-width="0.9" stroke-linecap="round"/>
<line x1="816.60" y1="383.50" x2="815.00" y2="397.60" stroke="#9bb8e2" stroke-width="0.9" stroke-linecap="round"/>
<line x1="816.60" y1="383.50" x2="829.10" y2="402.60" stroke="#9bb8e2" stroke-width="0.9" stroke-linecap="round"/>
<line x1="826.60" y1="379.20" x2="815.60" y2="376.50" stroke="#9bb8e2" stroke-width="0.9" stroke-linecap="round"/>
<line x1="826.60" y1="379.20" x2="826.10" y2="374.50" stroke="#9bb8e2" stroke-width="0.9" stroke-linecap="round"/>
<line x1="826.60" y1="379.20" x2="837.10" y2="376.50" stroke="#9bb8e2" stroke-width="0.9" stroke-linecap="round"/>
<line x1="826.60" y1="379.20" x2="815.00" y2="397.60" stroke="#9bb8e2" stroke-width="0.9" stroke-linecap="round"/>
<line x1="826.60" y1="379.20" x2="829.10" y2="402.60" stroke="#9bb8e2" stroke-width="0.9" stroke-linecap="round"/>
<line x1="826.60" y1="379.20" x2="839.10" y2="397.60" stroke="#9bb8e2" stroke-width="0.9" stroke-linecap="round"/>
<line x1="840.10" y1="383.50" x2="837.10" y2="376.50" stroke="#9bb8e2" stroke-width="0.9" stroke-linecap="round"/>
<line x1="840.10" y1="383.50" x2="850.20" y2="378.50" stroke="#9bb8e2" stroke-width="0.9" stroke-linecap="round"/>
<line x1="840.10" y1="383.50" x2="829.10" y2="402.60" stroke="#9bb8e2" stroke-width="0.9" stroke-linecap="round"/>
<line x1="840.10" y1="383.50" x2="839.10" y2="397.60" stroke="#9bb8e2" stroke-width="0.9" stroke-linecap="round"/>
<line x1="840.10" y1="383.50" x2="852.20" y2="403.00" stroke="#9bb8e2" stroke-width="0.9" stroke-linecap="round"/>
<line x1="791.00" y1="381.50" x2="804.60" y2="378.80" stroke="#9bb8e2" stroke-width="1" stroke-linecap="round"/>
<line x1="804.60" y1="378.80" x2="816.60" y2="383.50" stroke="#9bb8e2" stroke-width="1" stroke-linecap="round"/>
<line x1="816.60" y1="383.50" x2="826.60" y2="379.20" stroke="#9bb8e2" stroke-width="1" stroke-linecap="round"/>
<line x1="826.60" y1="379.20" x2="840.10" y2="383.50" stroke="#9bb8e2" stroke-width="1" stroke-linecap="round"/>
<line x1="784.00" y1="388.20" x2="777.80" y2="379.00" stroke="#86a6d8" stroke-width="1.2" stroke-linecap="round"/>
<line x1="784.00" y1="388.20" x2="792.20" y2="375.50" stroke="#86a6d8" stroke-width="1.2" stroke-linecap="round"/>
<line x1="784.00" y1="388.20" x2="778.50" y2="394.00" stroke="#86a6d8" stroke-width="1.2" stroke-linecap="round"/>
<line x1="784.00" y1="388.20" x2="791.50" y2="398.60" stroke="#86a6d8" stroke-width="1.2" stroke-linecap="round"/>
<line x1="784.00" y1="388.20" x2="791.00" y2="381.50" stroke="#86a6d8" stroke-width="1.2" stroke-linecap="round"/>
<line x1="804.00" y1="389.00" x2="792.20" y2="375.50" stroke="#86a6d8" stroke-width="1.2" stroke-linecap="round"/>
<line x1="804.00" y1="389.00" x2="805.00" y2="374.50" stroke="#86a6d8" stroke-width="1.2" stroke-linecap="round"/>
<line x1="804.00" y1="389.00" x2="815.60" y2="376.50" stroke="#86a6d8" stroke-width="1.2" stroke-linecap="round"/>
<line x1="804.00" y1="389.00" x2="791.50" y2="398.60" stroke="#86a6d8" stroke-width="1.2" stroke-linecap="round"/>
<line x1="804.00" y1="389.00" x2="804.00" y2="401.60" stroke="#86a6d8" stroke-width="1.2" stroke-linecap="round"/>
<line x1="804.00" y1="389.00" x2="815.00" y2="397.60" stroke="#86a6d8" stroke-width="1.2" stroke-linecap="round"/>
<line x1="804.00" y1="389.00" x2="791.00" y2="381.50" stroke="#86a6d8" stroke-width="1.2" stroke-linecap="round"/>
<line x1="804.00" y1="389.00" x2="804.60" y2="378.80" stroke="#86a6d8" stroke-width="1.2" stroke-linecap="round"/>
<line x1="804.00" y1="389.00" x2="816.60" y2="383.50" stroke="#86a6d8" stroke-width="1.2" stroke-linecap="round"/>
<line x1="827.10" y1="389.50" x2="815.60" y2="376.50" stroke="#86a6d8" stroke-width="1.2" stroke-linecap="round"/>
<line x1="827.10" y1="389.50" x2="826.10" y2="374.50" stroke="#86a6d8" stroke-width="1.2" stroke-linecap="round"/>
<line x1="827.10" y1="389.50" x2="837.10" y2="376.50" stroke="#86a6d8" stroke-width="1.2" stroke-linecap="round"/>
<line x1="827.10" y1="389.50" x2="815.00" y2="397.60" stroke="#86a6d8" stroke-width="1.2" stroke-linecap="round"/>
<line x1="827.10" y1="389.50" x2="829.10" y2="402.60" stroke="#86a6d8" stroke-width="1.2" stroke-linecap="round"/>
<line x1="827.10" y1="389.50" x2="839.10" y2="397.60" stroke="#86a6d8" stroke-width="1.2" stroke-linecap="round"/>
<line x1="827.10" y1="389.50" x2="816.60" y2="383.50" stroke="#86a6d8" stroke-width="1.2" stroke-linecap="round"/>
<line x1="827.10" y1="389.50" x2="826.60" y2="379.20" stroke="#86a6d8" stroke-width="1.2" stroke-linecap="round"/>
<line x1="827.10" y1="389.50" x2="840.10" y2="383.50" stroke="#86a6d8" stroke-width="1.2" stroke-linecap="round"/>
<line x1="851.40" y1="389.00" x2="837.10" y2="376.50" stroke="#86a6d8" stroke-width="1.2" stroke-linecap="round"/>
<line x1="851.40" y1="389.00" x2="850.20" y2="378.50" stroke="#86a6d8" stroke-width="1.2" stroke-linecap="round"/>
<line x1="851.40" y1="389.00" x2="864.70" y2="381.00" stroke="#86a6d8" stroke-width="1.2" stroke-linecap="round"/>
<line x1="851.40" y1="389.00" x2="839.10" y2="397.60" stroke="#86a6d8" stroke-width="1.2" stroke-linecap="round"/>
<line x1="851.40" y1="389.00" x2="852.20" y2="403.00" stroke="#86a6d8" stroke-width="1.2" stroke-linecap="round"/>
<line x1="851.40" y1="389.00" x2="862.20" y2="397.60" stroke="#86a6d8" stroke-width="1.2" stroke-linecap="round"/>
<line x1="851.40" y1="389.00" x2="840.10" y2="383.50" stroke="#86a6d8" stroke-width="1.2" stroke-linecap="round"/>
<circle cx="793.00" cy="392.00" r="2.40" fill="url(#gO)"/>
<circle cx="830.00" cy="395.60" r="2.40" fill="url(#gO)"/>
<circle cx="784.00" cy="388.20" r="3.90" fill="url(#gCo)"/>
<circle cx="804.00" cy="389.00" r="4.30" fill="url(#gCo)"/>
<circle cx="827.10" cy="389.50" r="4.30" fill="url(#gCo)"/>
<circle cx="851.40" cy="389.00" r="4.30" fill="url(#gCo)"/>
<circle cx="777.80" cy="379.00" r="3.20" fill="url(#gO)"/>
<circle cx="792.20" cy="375.50" r="3.20" fill="url(#gO)"/>
<circle cx="805.00" cy="374.50" r="3.20" fill="url(#gO)"/>
<circle cx="815.60" cy="376.50" r="3.20" fill="url(#gO)"/>
<circle cx="826.10" cy="374.50" r="3.20" fill="url(#gO)"/>
<circle cx="837.10" cy="376.50" r="3.20" fill="url(#gO)"/>
<circle cx="850.20" cy="378.50" r="3.20" fill="url(#gO)"/>
<circle cx="864.70" cy="381.00" r="3.20" fill="url(#gO)"/>
<circle cx="791.00" cy="381.50" r="3.00" fill="url(#gO)"/>
<circle cx="804.60" cy="378.80" r="3.00" fill="url(#gO)"/>
<circle cx="816.60" cy="383.50" r="3.00" fill="url(#gO)"/>
<circle cx="826.60" cy="379.20" r="3.00" fill="url(#gO)"/>
<circle cx="840.10" cy="383.50" r="3.00" fill="url(#gO)"/>
<circle cx="778.50" cy="394.00" r="3.20" fill="url(#gO)"/>
<circle cx="791.50" cy="398.60" r="3.20" fill="url(#gO)"/>
<circle cx="804.00" cy="401.60" r="3.20" fill="url(#gO)"/>
<circle cx="815.00" cy="397.60" r="3.20" fill="url(#gO)"/>
<circle cx="829.10" cy="402.60" r="3.20" fill="url(#gO)"/>
<circle cx="839.10" cy="397.60" r="3.20" fill="url(#gO)"/>
<circle cx="852.20" cy="403.00" r="3.20" fill="url(#gO)"/>
<circle cx="862.20" cy="397.60" r="3.20" fill="url(#gO)"/>
<polygon points="777.8,420.5 792.2,417.0 805.0,416.0 815.6,418.0 826.1,416.0 837.1,418.0 850.2,420.0 864.7,422.5 862.2,439.1 852.2,444.5 839.1,439.1 829.1,444.1 815.0,439.1 804.0,443.1 791.5,440.1 778.5,435.5" fill="#c9daf0" opacity="0.75"/>
<line x1="777.80" y1="420.50" x2="792.20" y2="417.00" stroke="#9bb8e2" stroke-width="1.3" stroke-linecap="round"/>
<line x1="778.50" y1="435.50" x2="791.50" y2="440.10" stroke="#9bb8e2" stroke-width="1.3" stroke-linecap="round"/>
<line x1="792.20" y1="417.00" x2="805.00" y2="416.00" stroke="#9bb8e2" stroke-width="1.3" stroke-linecap="round"/>
<line x1="791.50" y1="440.10" x2="804.00" y2="443.10" stroke="#9bb8e2" stroke-width="1.3" stroke-linecap="round"/>
<line x1="805.00" y1="416.00" x2="815.60" y2="418.00" stroke="#9bb8e2" stroke-width="1.3" stroke-linecap="round"/>
<line x1="804.00" y1="443.10" x2="815.00" y2="439.10" stroke="#9bb8e2" stroke-width="1.3" stroke-linecap="round"/>
<line x1="815.60" y1="418.00" x2="826.10" y2="416.00" stroke="#9bb8e2" stroke-width="1.3" stroke-linecap="round"/>
<line x1="815.00" y1="439.10" x2="829.10" y2="444.10" stroke="#9bb8e2" stroke-width="1.3" stroke-linecap="round"/>
<line x1="826.10" y1="416.00" x2="837.10" y2="418.00" stroke="#9bb8e2" stroke-width="1.3" stroke-linecap="round"/>
<line x1="829.10" y1="444.10" x2="839.10" y2="439.10" stroke="#9bb8e2" stroke-width="1.3" stroke-linecap="round"/>
<line x1="837.10" y1="418.00" x2="850.20" y2="420.00" stroke="#9bb8e2" stroke-width="1.3" stroke-linecap="round"/>
<line x1="839.10" y1="439.10" x2="852.20" y2="444.50" stroke="#9bb8e2" stroke-width="1.3" stroke-linecap="round"/>
<line x1="850.20" y1="420.00" x2="864.70" y2="422.50" stroke="#9bb8e2" stroke-width="1.3" stroke-linecap="round"/>
<line x1="852.20" y1="444.50" x2="862.20" y2="439.10" stroke="#9bb8e2" stroke-width="1.3" stroke-linecap="round"/>
<line x1="777.80" y1="420.50" x2="778.50" y2="435.50" stroke="#9bb8e2" stroke-width="1.1" stroke-linecap="round"/>
<line x1="777.80" y1="420.50" x2="791.50" y2="440.10" stroke="#9bb8e2" stroke-width="1.1" stroke-linecap="round"/>
<line x1="792.20" y1="417.00" x2="778.50" y2="435.50" stroke="#9bb8e2" stroke-width="1.1" stroke-linecap="round"/>
<line x1="792.20" y1="417.00" x2="791.50" y2="440.10" stroke="#9bb8e2" stroke-width="1.1" stroke-linecap="round"/>
<line x1="792.20" y1="417.00" x2="804.00" y2="443.10" stroke="#9bb8e2" stroke-width="1.1" stroke-linecap="round"/>
<line x1="805.00" y1="416.00" x2="791.50" y2="440.10" stroke="#9bb8e2" stroke-width="1.1" stroke-linecap="round"/>
<line x1="805.00" y1="416.00" x2="804.00" y2="443.10" stroke="#9bb8e2" stroke-width="1.1" stroke-linecap="round"/>
<line x1="805.00" y1="416.00" x2="815.00" y2="439.10" stroke="#9bb8e2" stroke-width="1.1" stroke-linecap="round"/>
<line x1="815.60" y1="418.00" x2="804.00" y2="443.10" stroke="#9bb8e2" stroke-width="1.1" stroke-linecap="round"/>
<line x1="815.60" y1="418.00" x2="815.00" y2="439.10" stroke="#9bb8e2" stroke-width="1.1" stroke-linecap="round"/>
<line x1="815.60" y1="418.00" x2="829.10" y2="444.10" stroke="#9bb8e2" stroke-width="1.1" stroke-linecap="round"/>
<line x1="826.10" y1="416.00" x2="815.00" y2="439.10" stroke="#9bb8e2" stroke-width="1.1" stroke-linecap="round"/>
<line x1="826.10" y1="416.00" x2="829.10" y2="444.10" stroke="#9bb8e2" stroke-width="1.1" stroke-linecap="round"/>
<line x1="826.10" y1="416.00" x2="839.10" y2="439.10" stroke="#9bb8e2" stroke-width="1.1" stroke-linecap="round"/>
<line x1="837.10" y1="418.00" x2="829.10" y2="444.10" stroke="#9bb8e2" stroke-width="1.1" stroke-linecap="round"/>
<line x1="837.10" y1="418.00" x2="839.10" y2="439.10" stroke="#9bb8e2" stroke-width="1.1" stroke-linecap="round"/>
<line x1="850.20" y1="420.00" x2="839.10" y2="439.10" stroke="#9bb8e2" stroke-width="1.1" stroke-linecap="round"/>
<line x1="850.20" y1="420.00" x2="852.20" y2="444.50" stroke="#9bb8e2" stroke-width="1.1" stroke-linecap="round"/>
<line x1="850.20" y1="420.00" x2="862.20" y2="439.10" stroke="#9bb8e2" stroke-width="1.1" stroke-linecap="round"/>
<line x1="864.70" y1="422.50" x2="852.20" y2="444.50" stroke="#9bb8e2" stroke-width="1.1" stroke-linecap="round"/>
<line x1="864.70" y1="422.50" x2="862.20" y2="439.10" stroke="#9bb8e2" stroke-width="1.1" stroke-linecap="round"/>
<line x1="791.00" y1="423.00" x2="777.80" y2="420.50" stroke="#9bb8e2" stroke-width="0.9" stroke-linecap="round"/>
<line x1="791.00" y1="423.00" x2="792.20" y2="417.00" stroke="#9bb8e2" stroke-width="0.9" stroke-linecap="round"/>
<line x1="791.00" y1="423.00" x2="778.50" y2="435.50" stroke="#9bb8e2" stroke-width="0.9" stroke-linecap="round"/>
<line x1="791.00" y1="423.00" x2="791.50" y2="440.10" stroke="#9bb8e2" stroke-width="0.9" stroke-linecap="round"/>
<line x1="791.00" y1="423.00" x2="804.00" y2="443.10" stroke="#9bb8e2" stroke-width="0.9" stroke-linecap="round"/>
<line x1="804.60" y1="420.30" x2="792.20" y2="417.00" stroke="#9bb8e2" stroke-width="0.9" stroke-linecap="round"/>
<line x1="804.60" y1="420.30" x2="805.00" y2="416.00" stroke="#9bb8e2" stroke-width="0.9" stroke-linecap="round"/>
<line x1="804.60" y1="420.30" x2="815.60" y2="418.00" stroke="#9bb8e2" stroke-width="0.9" stroke-linecap="round"/>
<line x1="804.60" y1="420.30" x2="791.50" y2="440.10" stroke="#9bb8e2" stroke-width="0.9" stroke-linecap="round"/>
<line x1="804.60" y1="420.30" x2="804.00" y2="443.10" stroke="#9bb8e2" stroke-width="0.9" stroke-linecap="round"/>
<line x1="804.60" y1="420.30" x2="815.00" y2="439.10" stroke="#9bb8e2" stroke-width="0.9" stroke-linecap="round"/>
<line x1="816.60" y1="425.00" x2="805.00" y2="416.00" stroke="#9bb8e2" stroke-width="0.9" stroke-linecap="round"/>
<line x1="816.60" y1="425.00" x2="815.60" y2="418.00" stroke="#9bb8e2" stroke-width="0.9" stroke-linecap="round"/>
<line x1="816.60" y1="425.00" x2="826.10" y2="416.00" stroke="#9bb8e2" stroke-width="0.9" stroke-linecap="round"/>
<line x1="816.60" y1="425.00" x2="804.00" y2="443.10" stroke="#9bb8e2" stroke-width="0.9" stroke-linecap="round"/>
<line x1="816.60" y1="425.00" x2="815.00" y2="439.10" stroke="#9bb8e2" stroke-width="0.9" stroke-linecap="round"/>
<line x1="816.60" y1="425.00" x2="829.10" y2="444.10" stroke="#9bb8e2" stroke-width="0.9" stroke-linecap="round"/>
<line x1="826.60" y1="420.70" x2="815.60" y2="418.00" stroke="#9bb8e2" stroke-width="0.9" stroke-linecap="round"/>
<line x1="826.60" y1="420.70" x2="826.10" y2="416.00" stroke="#9bb8e2" stroke-width="0.9" stroke-linecap="round"/>
<line x1="826.60" y1="420.70" x2="837.10" y2="418.00" stroke="#9bb8e2" stroke-width="0.9" stroke-linecap="round"/>
<line x1="826.60" y1="420.70" x2="815.00" y2="439.10" stroke="#9bb8e2" stroke-width="0.9" stroke-linecap="round"/>
<line x1="826.60" y1="420.70" x2="829.10" y2="444.10" stroke="#9bb8e2" stroke-width="0.9" stroke-linecap="round"/>
<line x1="826.60" y1="420.70" x2="839.10" y2="439.10" stroke="#9bb8e2" stroke-width="0.9" stroke-linecap="round"/>
<line x1="840.10" y1="425.00" x2="837.10" y2="418.00" stroke="#9bb8e2" stroke-width="0.9" stroke-linecap="round"/>
<line x1="840.10" y1="425.00" x2="850.20" y2="420.00" stroke="#9bb8e2" stroke-width="0.9" stroke-linecap="round"/>
<line x1="840.10" y1="425.00" x2="829.10" y2="444.10" stroke="#9bb8e2" stroke-width="0.9" stroke-linecap="round"/>
<line x1="840.10" y1="425.00" x2="839.10" y2="439.10" stroke="#9bb8e2" stroke-width="0.9" stroke-linecap="round"/>
<line x1="840.10" y1="425.00" x2="852.20" y2="444.50" stroke="#9bb8e2" stroke-width="0.9" stroke-linecap="round"/>
<line x1="791.00" y1="423.00" x2="804.60" y2="420.30" stroke="#9bb8e2" stroke-width="1" stroke-linecap="round"/>
<line x1="804.60" y1="420.30" x2="816.60" y2="425.00" stroke="#9bb8e2" stroke-width="1" stroke-linecap="round"/>
<line x1="816.60" y1="425.00" x2="826.60" y2="420.70" stroke="#9bb8e2" stroke-width="1" stroke-linecap="round"/>
<line x1="826.60" y1="420.70" x2="840.10" y2="425.00" stroke="#9bb8e2" stroke-width="1" stroke-linecap="round"/>
<line x1="784.00" y1="429.70" x2="777.80" y2="420.50" stroke="#86a6d8" stroke-width="1.2" stroke-linecap="round"/>
<line x1="784.00" y1="429.70" x2="792.20" y2="417.00" stroke="#86a6d8" stroke-width="1.2" stroke-linecap="round"/>
<line x1="784.00" y1="429.70" x2="778.50" y2="435.50" stroke="#86a6d8" stroke-width="1.2" stroke-linecap="round"/>
<line x1="784.00" y1="429.70" x2="791.50" y2="440.10" stroke="#86a6d8" stroke-width="1.2" stroke-linecap="round"/>
<line x1="784.00" y1="429.70" x2="791.00" y2="423.00" stroke="#86a6d8" stroke-width="1.2" stroke-linecap="round"/>
<line x1="804.00" y1="430.50" x2="792.20" y2="417.00" stroke="#86a6d8" stroke-width="1.2" stroke-linecap="round"/>
<line x1="804.00" y1="430.50" x2="805.00" y2="416.00" stroke="#86a6d8" stroke-width="1.2" stroke-linecap="round"/>
<line x1="804.00" y1="430.50" x2="815.60" y2="418.00" stroke="#86a6d8" stroke-width="1.2" stroke-linecap="round"/>
<line x1="804.00" y1="430.50" x2="791.50" y2="440.10" stroke="#86a6d8" stroke-width="1.2" stroke-linecap="round"/>
<line x1="804.00" y1="430.50" x2="804.00" y2="443.10" stroke="#86a6d8" stroke-width="1.2" stroke-linecap="round"/>
<line x1="804.00" y1="430.50" x2="815.00" y2="439.10" stroke="#86a6d8" stroke-width="1.2" stroke-linecap="round"/>
<line x1="804.00" y1="430.50" x2="791.00" y2="423.00" stroke="#86a6d8" stroke-width="1.2" stroke-linecap="round"/>
<line x1="804.00" y1="430.50" x2="804.60" y2="420.30" stroke="#86a6d8" stroke-width="1.2" stroke-linecap="round"/>
<line x1="804.00" y1="430.50" x2="816.60" y2="425.00" stroke="#86a6d8" stroke-width="1.2" stroke-linecap="round"/>
<line x1="827.10" y1="431.00" x2="815.60" y2="418.00" stroke="#86a6d8" stroke-width="1.2" stroke-linecap="round"/>
<line x1="827.10" y1="431.00" x2="826.10" y2="416.00" stroke="#86a6d8" stroke-width="1.2" stroke-linecap="round"/>
<line x1="827.10" y1="431.00" x2="837.10" y2="418.00" stroke="#86a6d8" stroke-width="1.2" stroke-linecap="round"/>
<line x1="827.10" y1="431.00" x2="815.00" y2="439.10" stroke="#86a6d8" stroke-width="1.2" stroke-linecap="round"/>
<line x1="827.10" y1="431.00" x2="829.10" y2="444.10" stroke="#86a6d8" stroke-width="1.2" stroke-linecap="round"/>
<line x1="827.10" y1="431.00" x2="839.10" y2="439.10" stroke="#86a6d8" stroke-width="1.2" stroke-linecap="round"/>
<line x1="827.10" y1="431.00" x2="816.60" y2="425.00" stroke="#86a6d8" stroke-width="1.2" stroke-linecap="round"/>
<line x1="827.10" y1="431.00" x2="826.60" y2="420.70" stroke="#86a6d8" stroke-width="1.2" stroke-linecap="round"/>
<line x1="827.10" y1="431.00" x2="840.10" y2="425.00" stroke="#86a6d8" stroke-width="1.2" stroke-linecap="round"/>
<line x1="851.40" y1="430.50" x2="837.10" y2="418.00" stroke="#86a6d8" stroke-width="1.2" stroke-linecap="round"/>
<line x1="851.40" y1="430.50" x2="850.20" y2="420.00" stroke="#86a6d8" stroke-width="1.2" stroke-linecap="round"/>
<line x1="851.40" y1="430.50" x2="864.70" y2="422.50" stroke="#86a6d8" stroke-width="1.2" stroke-linecap="round"/>
<line x1="851.40" y1="430.50" x2="839.10" y2="439.10" stroke="#86a6d8" stroke-width="1.2" stroke-linecap="round"/>
<line x1="851.40" y1="430.50" x2="852.20" y2="444.50" stroke="#86a6d8" stroke-width="1.2" stroke-linecap="round"/>
<line x1="851.40" y1="430.50" x2="862.20" y2="439.10" stroke="#86a6d8" stroke-width="1.2" stroke-linecap="round"/>
<line x1="851.40" y1="430.50" x2="840.10" y2="425.00" stroke="#86a6d8" stroke-width="1.2" stroke-linecap="round"/>
<circle cx="793.00" cy="433.50" r="2.40" fill="url(#gO)"/>
<circle cx="830.00" cy="437.10" r="2.40" fill="url(#gO)"/>
<circle cx="784.00" cy="429.70" r="3.90" fill="url(#gCo)"/>
<circle cx="804.00" cy="430.50" r="4.30" fill="url(#gCo)"/>
<circle cx="827.10" cy="431.00" r="4.30" fill="url(#gCo)"/>
<circle cx="851.40" cy="430.50" r="4.30" fill="url(#gCo)"/>
<circle cx="777.80" cy="420.50" r="3.20" fill="url(#gO)"/>
<circle cx="792.20" cy="417.00" r="3.20" fill="url(#gO)"/>
<circle cx="805.00" cy="416.00" r="3.20" fill="url(#gO)"/>
<circle cx="815.60" cy="418.00" r="3.20" fill="url(#gO)"/>
<circle cx="826.10" cy="416.00" r="3.20" fill="url(#gO)"/>
<circle cx="837.10" cy="418.00" r="3.20" fill="url(#gO)"/>
<circle cx="850.20" cy="420.00" r="3.20" fill="url(#gO)"/>
<circle cx="864.70" cy="422.50" r="3.20" fill="url(#gO)"/>
<circle cx="791.00" cy="423.00" r="3.00" fill="url(#gO)"/>
<circle cx="804.60" cy="420.30" r="3.00" fill="url(#gO)"/>
<circle cx="816.60" cy="425.00" r="3.00" fill="url(#gO)"/>
<circle cx="826.60" cy="420.70" r="3.00" fill="url(#gO)"/>
<circle cx="840.10" cy="425.00" r="3.00" fill="url(#gO)"/>
<circle cx="778.50" cy="435.50" r="3.20" fill="url(#gO)"/>
<circle cx="791.50" cy="440.10" r="3.20" fill="url(#gO)"/>
<circle cx="804.00" cy="443.10" r="3.20" fill="url(#gO)"/>
<circle cx="815.00" cy="439.10" r="3.20" fill="url(#gO)"/>
<circle cx="829.10" cy="444.10" r="3.20" fill="url(#gO)"/>
<circle cx="839.10" cy="439.10" r="3.20" fill="url(#gO)"/>
<circle cx="852.20" cy="444.50" r="3.20" fill="url(#gO)"/>
<circle cx="862.20" cy="439.10" r="3.20" fill="url(#gO)"/>
<circle cx="786.50" cy="406.00" r="4.70" fill="url(#gLi)"/>
<circle cx="799.60" cy="411.00" r="4.70" fill="url(#gLi)"/>
<circle cx="815.60" cy="410.00" r="4.70" fill="url(#gLi)"/>
<circle cx="835.60" cy="412.00" r="4.70" fill="url(#gLi)"/>
<circle cx="851.70" cy="410.60" r="4.70" fill="url(#gLi)"/>
<line x1="871.60" y1="352.30" x2="923.80" y2="352.30" stroke="#4a4a4a" stroke-width="0.7"/>
<polygon points="927.00,352.30 923.80,353.60 923.80,351.00" fill="#222"/>
<line x1="871.60" y1="357.50" x2="921.70" y2="397.41" stroke="#4a4a4a" stroke-width="0.7"/>
<polygon points="924.20,399.40 920.89,398.42 922.51,396.39" fill="#222"/>
<line x1="866.50" y1="385.60" x2="924.08" y2="359.62" stroke="#4a4a4a" stroke-width="0.7"/>
<polygon points="927.00,358.30 924.62,360.80 923.55,358.43" fill="#222"/>
<line x1="860.50" y1="411.20" x2="921.00" y2="411.20" stroke="#4a4a4a" stroke-width="0.7"/>
<polygon points="924.20,411.20 921.00,412.50 921.00,409.90" fill="#222"/>
<line x1="959.00" y1="310.80" x2="938.90" y2="329.80" stroke="#98b3dd" stroke-width="1.6" stroke-linecap="round"/>
<line x1="959.00" y1="310.80" x2="945.30" y2="346.80" stroke="#98b3dd" stroke-width="1.8" stroke-linecap="round"/>
<line x1="959.00" y1="310.80" x2="969.00" y2="327.70" stroke="#98b3dd" stroke-width="1.4" stroke-linecap="round"/>
<line x1="959.00" y1="310.80" x2="988.00" y2="343.00" stroke="#98b3dd" stroke-width="1.8" stroke-linecap="round"/>
<line x1="938.90" y1="329.80" x2="969.00" y2="327.70" stroke="#98b3dd" stroke-width="1.5" stroke-linecap="round"/>
<line x1="938.90" y1="329.80" x2="945.30" y2="346.80" stroke="#98b3dd" stroke-width="1.6" stroke-linecap="round"/>
<line x1="945.30" y1="346.80" x2="988.00" y2="343.00" stroke="#98b3dd" stroke-width="1.8" stroke-linecap="round"/>
<line x1="945.30" y1="346.80" x2="963.30" y2="356.70" stroke="#98b3dd" stroke-width="1.7" stroke-linecap="round"/>
<line x1="963.30" y1="356.70" x2="988.00" y2="343.00" stroke="#98b3dd" stroke-width="1.7" stroke-linecap="round"/>
<line x1="969.00" y1="327.70" x2="988.00" y2="343.00" stroke="#98b3dd" stroke-width="1.5" stroke-linecap="round"/>
<line x1="959.60" y1="311.40" x2="988.00" y2="343.00" stroke="#98b3dd" stroke-width="1.2" stroke-linecap="round"/>
<circle cx="969.00" cy="327.70" r="2.60" fill="url(#gCl)"/>
<circle cx="961.00" cy="337.70" r="6.20" fill="url(#gCo)"/>
<circle cx="959.00" cy="310.80" r="4.00" fill="url(#gCl)"/>
<circle cx="938.90" cy="329.80" r="3.60" fill="url(#gCl)"/>
<circle cx="945.30" cy="346.80" r="5.00" fill="url(#gCl)"/>
<circle cx="988.00" cy="343.00" r="4.00" fill="url(#gCl)"/>
<circle cx="963.30" cy="356.70" r="3.50" fill="url(#gCl)"/>
<line x1="936.30" y1="376.30" x2="979.00" y2="376.30" stroke="#a6c0e4" stroke-width="2.1" stroke-linecap="round"/>
<line x1="936.30" y1="405.20" x2="979.00" y2="405.20" stroke="#a6c0e4" stroke-width="2.1" stroke-linecap="round"/>
<line x1="936.30" y1="430.60" x2="979.00" y2="430.60" stroke="#a6c0e4" stroke-width="2.1" stroke-linecap="round"/>
<line x1="936.30" y1="376.30" x2="936.30" y2="430.60" stroke="#a6c0e4" stroke-width="2.1" stroke-linecap="round"/>
<line x1="958.60" y1="376.30" x2="958.60" y2="430.60" stroke="#a6c0e4" stroke-width="2.1" stroke-linecap="round"/>
<line x1="979.00" y1="376.30" x2="979.00" y2="430.60" stroke="#a6c0e4" stroke-width="2.1" stroke-linecap="round"/>
<line x1="936.30" y1="376.30" x2="944.00" y2="383.50" stroke="#a6c0e4" stroke-width="1.9" stroke-linecap="round"/>
<line x1="936.30" y1="405.20" x2="944.00" y2="411.90" stroke="#a6c0e4" stroke-width="1.9" stroke-linecap="round"/>
<line x1="936.30" y1="430.60" x2="944.00" y2="438.10" stroke="#a6c0e4" stroke-width="1.9" stroke-linecap="round"/>
<line x1="958.60" y1="376.30" x2="967.50" y2="383.50" stroke="#a6c0e4" stroke-width="1.9" stroke-linecap="round"/>
<line x1="958.60" y1="405.20" x2="967.50" y2="411.90" stroke="#a6c0e4" stroke-width="1.9" stroke-linecap="round"/>
<line x1="958.60" y1="430.60" x2="967.50" y2="438.10" stroke="#a6c0e4" stroke-width="1.9" stroke-linecap="round"/>
<line x1="979.00" y1="376.30" x2="988.70" y2="383.50" stroke="#a6c0e4" stroke-width="1.9" stroke-linecap="round"/>
<line x1="979.00" y1="405.20" x2="988.70" y2="411.90" stroke="#a6c0e4" stroke-width="1.9" stroke-linecap="round"/>
<line x1="979.00" y1="430.60" x2="988.70" y2="438.10" stroke="#a6c0e4" stroke-width="1.9" stroke-linecap="round"/>
<circle cx="936.30" cy="376.30" r="5.30" fill="url(#gLi)"/>
<circle cx="958.60" cy="376.30" r="3.80" fill="url(#gCl)"/>
<circle cx="979.00" cy="376.30" r="5.30" fill="url(#gLi)"/>
<circle cx="936.30" cy="405.20" r="3.80" fill="url(#gCl)"/>
<circle cx="958.60" cy="405.20" r="5.30" fill="url(#gLi)"/>
<circle cx="979.00" cy="405.20" r="3.80" fill="url(#gCl)"/>
<circle cx="936.30" cy="430.60" r="5.30" fill="url(#gLi)"/>
<circle cx="958.60" cy="430.60" r="3.80" fill="url(#gCl)"/>
<circle cx="979.00" cy="430.60" r="5.30" fill="url(#gLi)"/>
<line x1="944.00" y1="383.50" x2="988.70" y2="383.50" stroke="#a6c0e4" stroke-width="2.1" stroke-linecap="round"/>
<line x1="944.00" y1="411.90" x2="988.70" y2="411.90" stroke="#a6c0e4" stroke-width="2.1" stroke-linecap="round"/>
<line x1="944.00" y1="438.10" x2="988.70" y2="438.10" stroke="#a6c0e4" stroke-width="2.1" stroke-linecap="round"/>
<line x1="944.00" y1="383.50" x2="944.00" y2="438.10" stroke="#a6c0e4" stroke-width="2.1" stroke-linecap="round"/>
<line x1="967.50" y1="383.50" x2="967.50" y2="438.10" stroke="#a6c0e4" stroke-width="2.1" stroke-linecap="round"/>
<line x1="988.70" y1="383.50" x2="988.70" y2="438.10" stroke="#a6c0e4" stroke-width="2.1" stroke-linecap="round"/>
<line x1="944.00" y1="383.50" x2="953.40" y2="390.40" stroke="#a6c0e4" stroke-width="1.9" stroke-linecap="round"/>
<line x1="944.00" y1="411.90" x2="953.40" y2="418.10" stroke="#a6c0e4" stroke-width="1.9" stroke-linecap="round"/>
<line x1="944.00" y1="438.10" x2="953.40" y2="444.80" stroke="#a6c0e4" stroke-width="1.9" stroke-linecap="round"/>
<line x1="967.50" y1="383.50" x2="974.70" y2="390.40" stroke="#a6c0e4" stroke-width="1.9" stroke-linecap="round"/>
<line x1="967.50" y1="411.90" x2="974.70" y2="418.10" stroke="#a6c0e4" stroke-width="1.9" stroke-linecap="round"/>
<line x1="967.50" y1="438.10" x2="974.70" y2="444.80" stroke="#a6c0e4" stroke-width="1.9" stroke-linecap="round"/>
<line x1="988.70" y1="383.50" x2="996.90" y2="390.40" stroke="#a6c0e4" stroke-width="1.9" stroke-linecap="round"/>
<line x1="988.70" y1="411.90" x2="996.90" y2="418.10" stroke="#a6c0e4" stroke-width="1.9" stroke-linecap="round"/>
<line x1="988.70" y1="438.10" x2="996.90" y2="444.80" stroke="#a6c0e4" stroke-width="1.9" stroke-linecap="round"/>
<circle cx="944.00" cy="383.50" r="3.80" fill="url(#gCl)"/>
<circle cx="967.50" cy="383.50" r="5.30" fill="url(#gLi)"/>
<circle cx="988.70" cy="383.50" r="3.80" fill="url(#gCl)"/>
<circle cx="944.00" cy="411.90" r="5.30" fill="url(#gLi)"/>
<circle cx="967.50" cy="411.90" r="3.80" fill="url(#gCl)"/>
<circle cx="988.70" cy="411.90" r="5.30" fill="url(#gLi)"/>
<circle cx="944.00" cy="438.10" r="3.80" fill="url(#gCl)"/>
<circle cx="967.50" cy="438.10" r="5.30" fill="url(#gLi)"/>
<circle cx="988.70" cy="438.10" r="3.80" fill="url(#gCl)"/>
<line x1="953.40" y1="390.40" x2="996.90" y2="390.40" stroke="#a6c0e4" stroke-width="2.1" stroke-linecap="round"/>
<line x1="953.40" y1="418.10" x2="996.90" y2="418.10" stroke="#a6c0e4" stroke-width="2.1" stroke-linecap="round"/>
<line x1="953.40" y1="444.80" x2="996.90" y2="444.80" stroke="#a6c0e4" stroke-width="2.1" stroke-linecap="round"/>
<line x1="953.40" y1="390.40" x2="953.40" y2="444.80" stroke="#a6c0e4" stroke-width="2.1" stroke-linecap="round"/>
<line x1="974.70" y1="390.40" x2="974.70" y2="444.80" stroke="#a6c0e4" stroke-width="2.1" stroke-linecap="round"/>
<line x1="996.90" y1="390.40" x2="996.90" y2="444.80" stroke="#a6c0e4" stroke-width="2.1" stroke-linecap="round"/>
<circle cx="953.40" cy="390.40" r="5.30" fill="url(#gLi)"/>
<circle cx="974.70" cy="390.40" r="3.80" fill="url(#gCl)"/>
<circle cx="996.90" cy="390.40" r="5.30" fill="url(#gLi)"/>
<circle cx="953.40" cy="418.10" r="3.80" fill="url(#gCl)"/>
<circle cx="974.70" cy="418.10" r="5.30" fill="url(#gLi)"/>
<circle cx="996.90" cy="418.10" r="3.80" fill="url(#gCl)"/>
<circle cx="953.40" cy="444.80" r="5.30" fill="url(#gLi)"/>
<circle cx="974.70" cy="444.80" r="3.80" fill="url(#gCl)"/>
<circle cx="996.90" cy="444.80" r="5.30" fill="url(#gLi)"/>
<circle cx="887.80" cy="472.00" r="3.00" fill="url(#gO)"/>
<text x="893.40" y="474.10" font-size="5.8" text-anchor="start" class="tn" fill="#262626" stroke="#262626" stroke-width="0.12">O</text>
<circle cx="902.80" cy="472.00" r="3.70" fill="url(#gH)"/>
<text x="908.20" y="474.10" font-size="5.8" text-anchor="start" class="tn" fill="#262626" stroke="#262626" stroke-width="0.12">H</text>
<circle cx="920.20" cy="472.00" r="4.50" fill="url(#gC)"/>
<text x="926.50" y="474.10" font-size="5.8" text-anchor="start" class="tn" fill="#262626" stroke="#262626" stroke-width="0.12">C</text>
<circle cx="937.50" cy="472.00" r="4.70" fill="url(#gCl)"/>
<text x="943.60" y="474.10" font-size="5.8" text-anchor="start" class="tn" fill="#262626" stroke="#262626" stroke-width="0.12">Cl</text>
<circle cx="956.60" cy="472.00" r="5.00" fill="url(#gZn)"/>
<text x="963.80" y="474.10" font-size="5.8" text-anchor="start" class="tn" fill="#262626" stroke="#262626" stroke-width="0.12">Zn</text>
<circle cx="978.00" cy="472.00" r="5.40" fill="url(#gCo)"/>
<text x="986.30" y="474.10" font-size="5.8" text-anchor="start" class="tn" fill="#262626" stroke="#262626" stroke-width="0.12">Co</text>
<circle cx="1000.50" cy="472.00" r="5.40" fill="url(#gLi)"/>
<text x="1008.20" y="474.10" font-size="5.8" text-anchor="start" class="tn" fill="#262626" stroke="#262626" stroke-width="0.12">Li</text>
</svg></body></html>
